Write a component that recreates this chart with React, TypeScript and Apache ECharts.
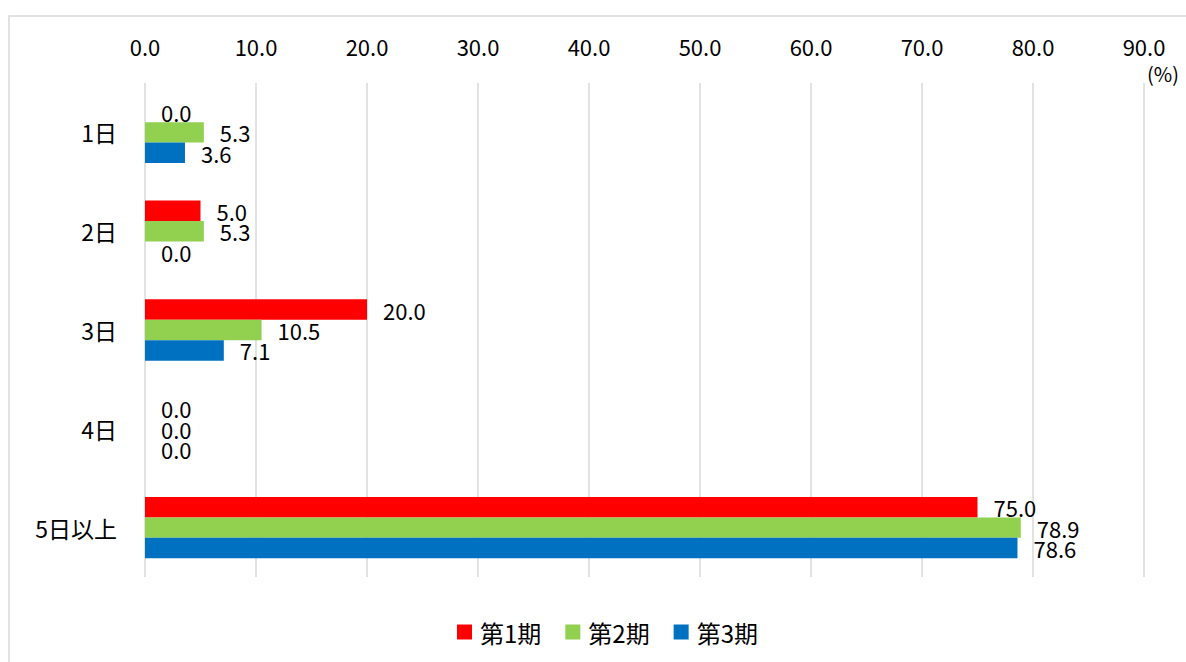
import React, { useEffect, useRef } from "react";
import * as echarts from "echarts";

const categories = ["1日", "2日", "3日", "4日", "5日以上"];
const seriesNames = ["第1期", "第2期", "第3期"];
const period1 = [0.0, 5.0, 20.0, 0.0, 75.0];
const period2 = [5.3, 5.3, 10.5, 0.0, 78.9];
const period3 = [3.6, 0.0, 7.1, 0.0, 78.6];
const colors = ["#ff0000", "#92d050", "#0070c0"];

const FONT = "'Noto Sans CJK JP', 'Noto Sans', sans-serif";

export default function App() {
  const ref = useRef<HTMLDivElement>(null);
  useEffect(() => {
    if (!ref.current) return;
    const chart = echarts.init(ref.current, null, { renderer: "svg" });
    const values = [period1, period2, period3];
    chart.setOption({
      animation: false,
      backgroundColor: "#ffffff",
      textStyle: { fontFamily: FONT },
      grid: { left: 145, right: 42, top: 83, bottom: 85 },
      xAxis: {
        type: "value",
        position: "top",
        min: 0,
        max: 90,
        interval: 10,
        axisLine: { show: false },
        axisTick: { show: false },
        axisLabel: {
          margin: 26,
          color: "#000",
          fontSize: 22,
          fontFamily: FONT,
          formatter: (v: number) => v.toFixed(1),
        },
        splitLine: { lineStyle: { color: "#d9d9d9", width: 1.5 } },
      },
      yAxis: {
        type: "category",
        data: categories,
        inverse: true,
        axisLine: { show: false },
        axisTick: { show: false },
        axisLabel: { margin: 28, color: "#000", fontSize: 23, fontFamily: FONT },
      },
      legend: {
        data: seriesNames,
        left: 452,
        top: 615,
        itemWidth: 15,
        itemHeight: 15,
        itemGap: 24,
        icon: "rect",
        textStyle: { color: "#000", fontSize: 24, fontFamily: FONT, padding: [0, 0, 0, 3] },
      },
      graphic: [
        {
          type: "rect",
          shape: { x: 9, y: 16, width: 1200, height: 700 },
          style: { fill: "none", stroke: "#d9d9d9", lineWidth: 1.5 },
          silent: true,
        },
        {
          type: "text",
          x: 1163,
          y: 73,
          style: {
            text: "(%)",
            fontSize: 20,
            fontFamily: FONT,
            fill: "#000",
            textAlign: "center",
            textVerticalAlign: "middle",
          },
        },
      ],
      series: seriesNames.map((name, i) => ({
        name,
        type: "bar",
        data: values[i],
        barGap: "0%",
        barCategoryGap: "38%",
        itemStyle: { color: colors[i] },
        label: {
          show: true,
          position: "right",
          distance: 16,
          color: "#000",
          fontSize: 22,
          fontFamily: FONT,
          formatter: (p: any) => Number(p.value).toFixed(1),
        },
      })),
    });
    return () => chart.dispose();
  }, []);
  return (
    <div
      ref={ref}
      style={{ position: "fixed", left: 0, top: 0, width: 1186, height: 662 }}
    />
  );
}
